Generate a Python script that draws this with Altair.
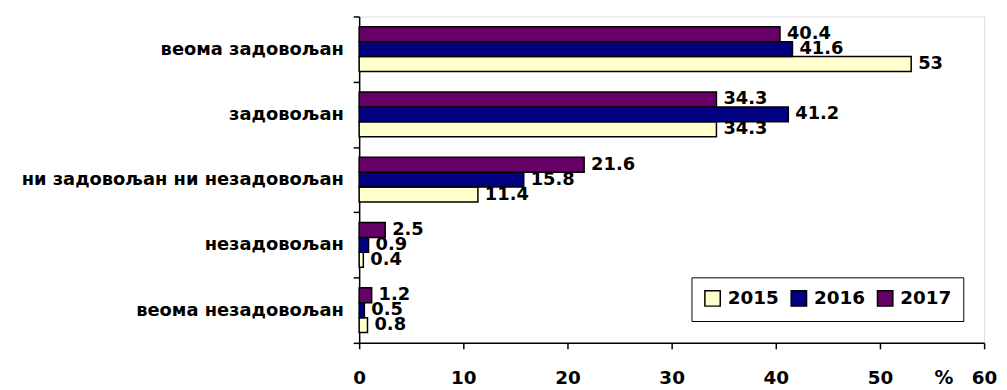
import altair as alt
import pandas as pd

categories = ["веома задовољан", "задовољан", "ни задовољан ни незадовољан",
              "незадовољан", "веома незадовољан"]
years = ["2015", "2016", "2017"]
v2015 = [53, 34.3, 11.4, 0.4, 0.8]
v2016 = [41.6, 41.2, 15.8, 0.9, 0.5]
v2017 = [40.4, 34.3, 21.6, 2.5, 1.2]
colors = ["#FFFFCC", "#000080", "#660066"]
x_ticks = [0, 10, 20, 30, 40, 50, 60]

rows = []
for yr, vals in zip(years, [v2015, v2016, v2017]):
    for c, v in zip(categories, vals):
        rows.append({"category": c, "year": yr, "value": v, "label": f"{v:g}"})
df = pd.DataFrame(rows)

FONT = "DejaVu Sans"

y_enc = alt.Y(
    "category:N", sort=categories,
    scale=alt.Scale(paddingInner=0, paddingOuter=0),
    axis=alt.Axis(title=None, tickBand="extent", labelFontSize=18, labelFontWeight="bold",
                  labelFont=FONT, labelColor="black", labelPadding=10, tickSize=6,
                  tickColor="black", domainColor="black", domainWidth=1.5, tickWidth=1.5,
                  labelLimit=400),
)
yoff_enc = alt.YOffset("year:N", sort=["2017", "2016", "2015"],
                       scale=alt.Scale(paddingInner=0, paddingOuter=0.69))
x_enc = alt.X(
    "value:Q",
    scale=alt.Scale(domain=[0, 60], nice=False),
    axis=alt.Axis(values=x_ticks, title="%", titleX=589, titleY=35, titleBaseline="middle",
                  titleAlign="center", titleAngle=0, titleFontSize=19, titleFontWeight="bold",
                  titleFont=FONT, titleColor="black", grid=False, tickSize=6, labelPadding=20,
                  labelFontSize=18.5, labelFontWeight="bold", labelFont=FONT, labelColor="black",
                  tickColor="black", domainColor="black", domainWidth=1.5, tickWidth=1.5,
                  labelFlush=False),
)

bars = alt.Chart(df).mark_bar(stroke="black", strokeWidth=1.5).encode(
    x=x_enc,
    y=y_enc,
    yOffset=yoff_enc,
    color=alt.Color(
        "year:N",
        scale=alt.Scale(domain=years, range=colors),
        legend=alt.Legend(title=None, orient="none", legendX=335, legendY=263,
                          direction="horizontal", symbolType="square", symbolSize=240,
                          symbolStrokeColor="black", symbolStrokeWidth=1.5,
                          labelFontSize=18.5, labelFontWeight="bold", labelFont=FONT,
                          labelColor="black", strokeColor="black", fillColor="white",
                          padding=12, columnPadding=9, labelOffset=6),
    ),
)

labels = alt.Chart(df).mark_text(
    align="left", baseline="middle", dx=7, fontSize=18, fontWeight="bold",
    font=FONT, color="black"
).encode(
    x=alt.X("value:Q"),
    y=alt.Y("category:N", sort=categories),
    yOffset=alt.YOffset("year:N", sort=["2017", "2016", "2015"]),
    text="label:N",
)

chart = alt.layer(bars, labels).properties(
    width=630, height=329,
    autosize=alt.AutoSizeParams(type="none"),
    padding={"left": 354, "top": 7, "right": 15, "bottom": 45},
).configure_view(stroke=None).configure(font=FONT)

chart.save("out.html", embed_options={"renderer": "svg", "actions": False})
